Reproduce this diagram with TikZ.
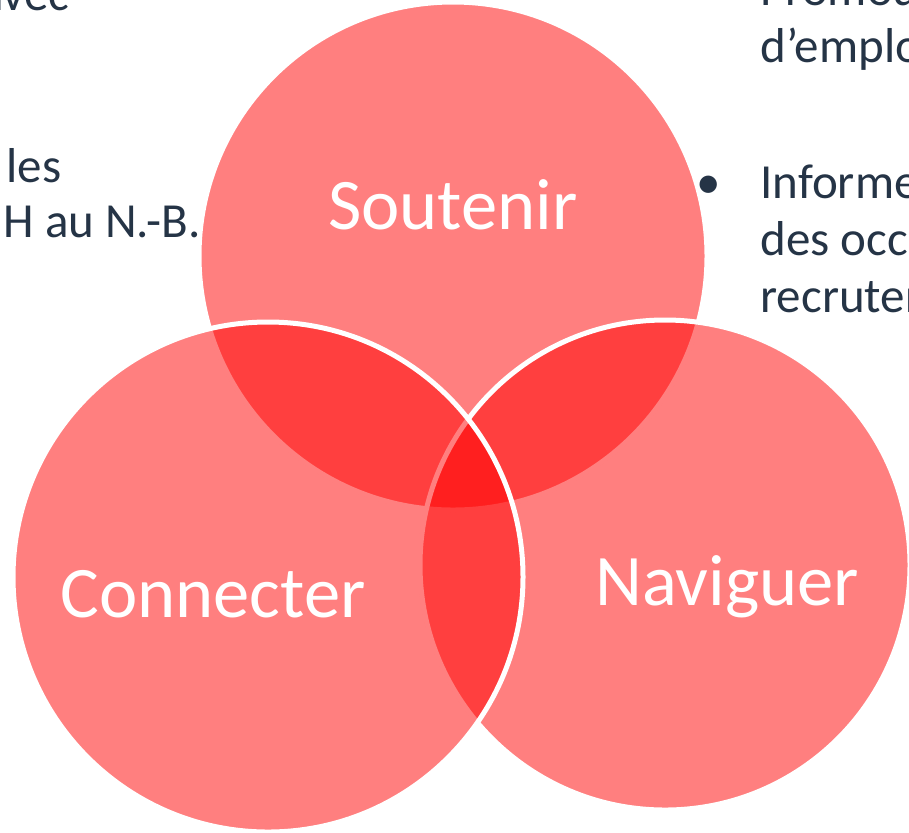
\documentclass[tikz,border=0pt]{standalone}
\usepackage{fontspec}
\setmainfont{Carlito}
\usepackage{tikz}
\definecolor{vennred}{RGB}{255,0,0}
\definecolor{textgrey}{RGB}{37,52,70}

\begin{document}
\begin{tikzpicture}[x=0.5pt,y=-0.5pt,
  venn/.style={draw=white,line width=2.5pt,shape=circle,fill=vennred,fill opacity=0.5,inner sep=0pt},
  word/.style={text=white,font=\fontsize{36.3}{42}\selectfont,anchor=base},
  side/.style={text=textgrey,font=\fontsize{24.5}{29}\selectfont,inner sep=0pt}]
	  \clip (0,0) rectangle (909,832);

	  % the three circles, top one first
	  \node[venn,minimum size=254pt] (sou) at (453,256) {};
	  \node[venn,minimum size=245pt] (nav) at (665,565) {};
	  \node[venn,minimum size=255pt] (con) at (268,577) {};

	  \node[word] (S) at (453,229) {Soutenir};
	  \node[word] (C) at (213,617) {Connecter};
	  \node[word] (N) at (727,605) {Naviguer};

	  % text cut off at the left
	  \node[side,anchor=base east] (l1) at (70,10) {avec};
	  \node[side,anchor=base west] (l2) at (6,182) {les};
	  \node[side,anchor=base west] (l3) at (3,237) {H au N.-B.};

	  % text cut off at the right
	  \node[side,anchor=base west] (r1) at (760,5) {Promou};
	  \node[side,anchor=base west] (r2) at (760,62) {d’emplo};
	  \node[side,anchor=base] (dot) at (709,198) {•};
	  \node[side,anchor=base west] (r3) at (760,198) {Informe};
	  \node[side,anchor=base west] (r4) at (760,255) {des occa};
	  \node[side,anchor=base west] (r5) at (760,312) {recruter};
\end{tikzpicture}
\end{document}
